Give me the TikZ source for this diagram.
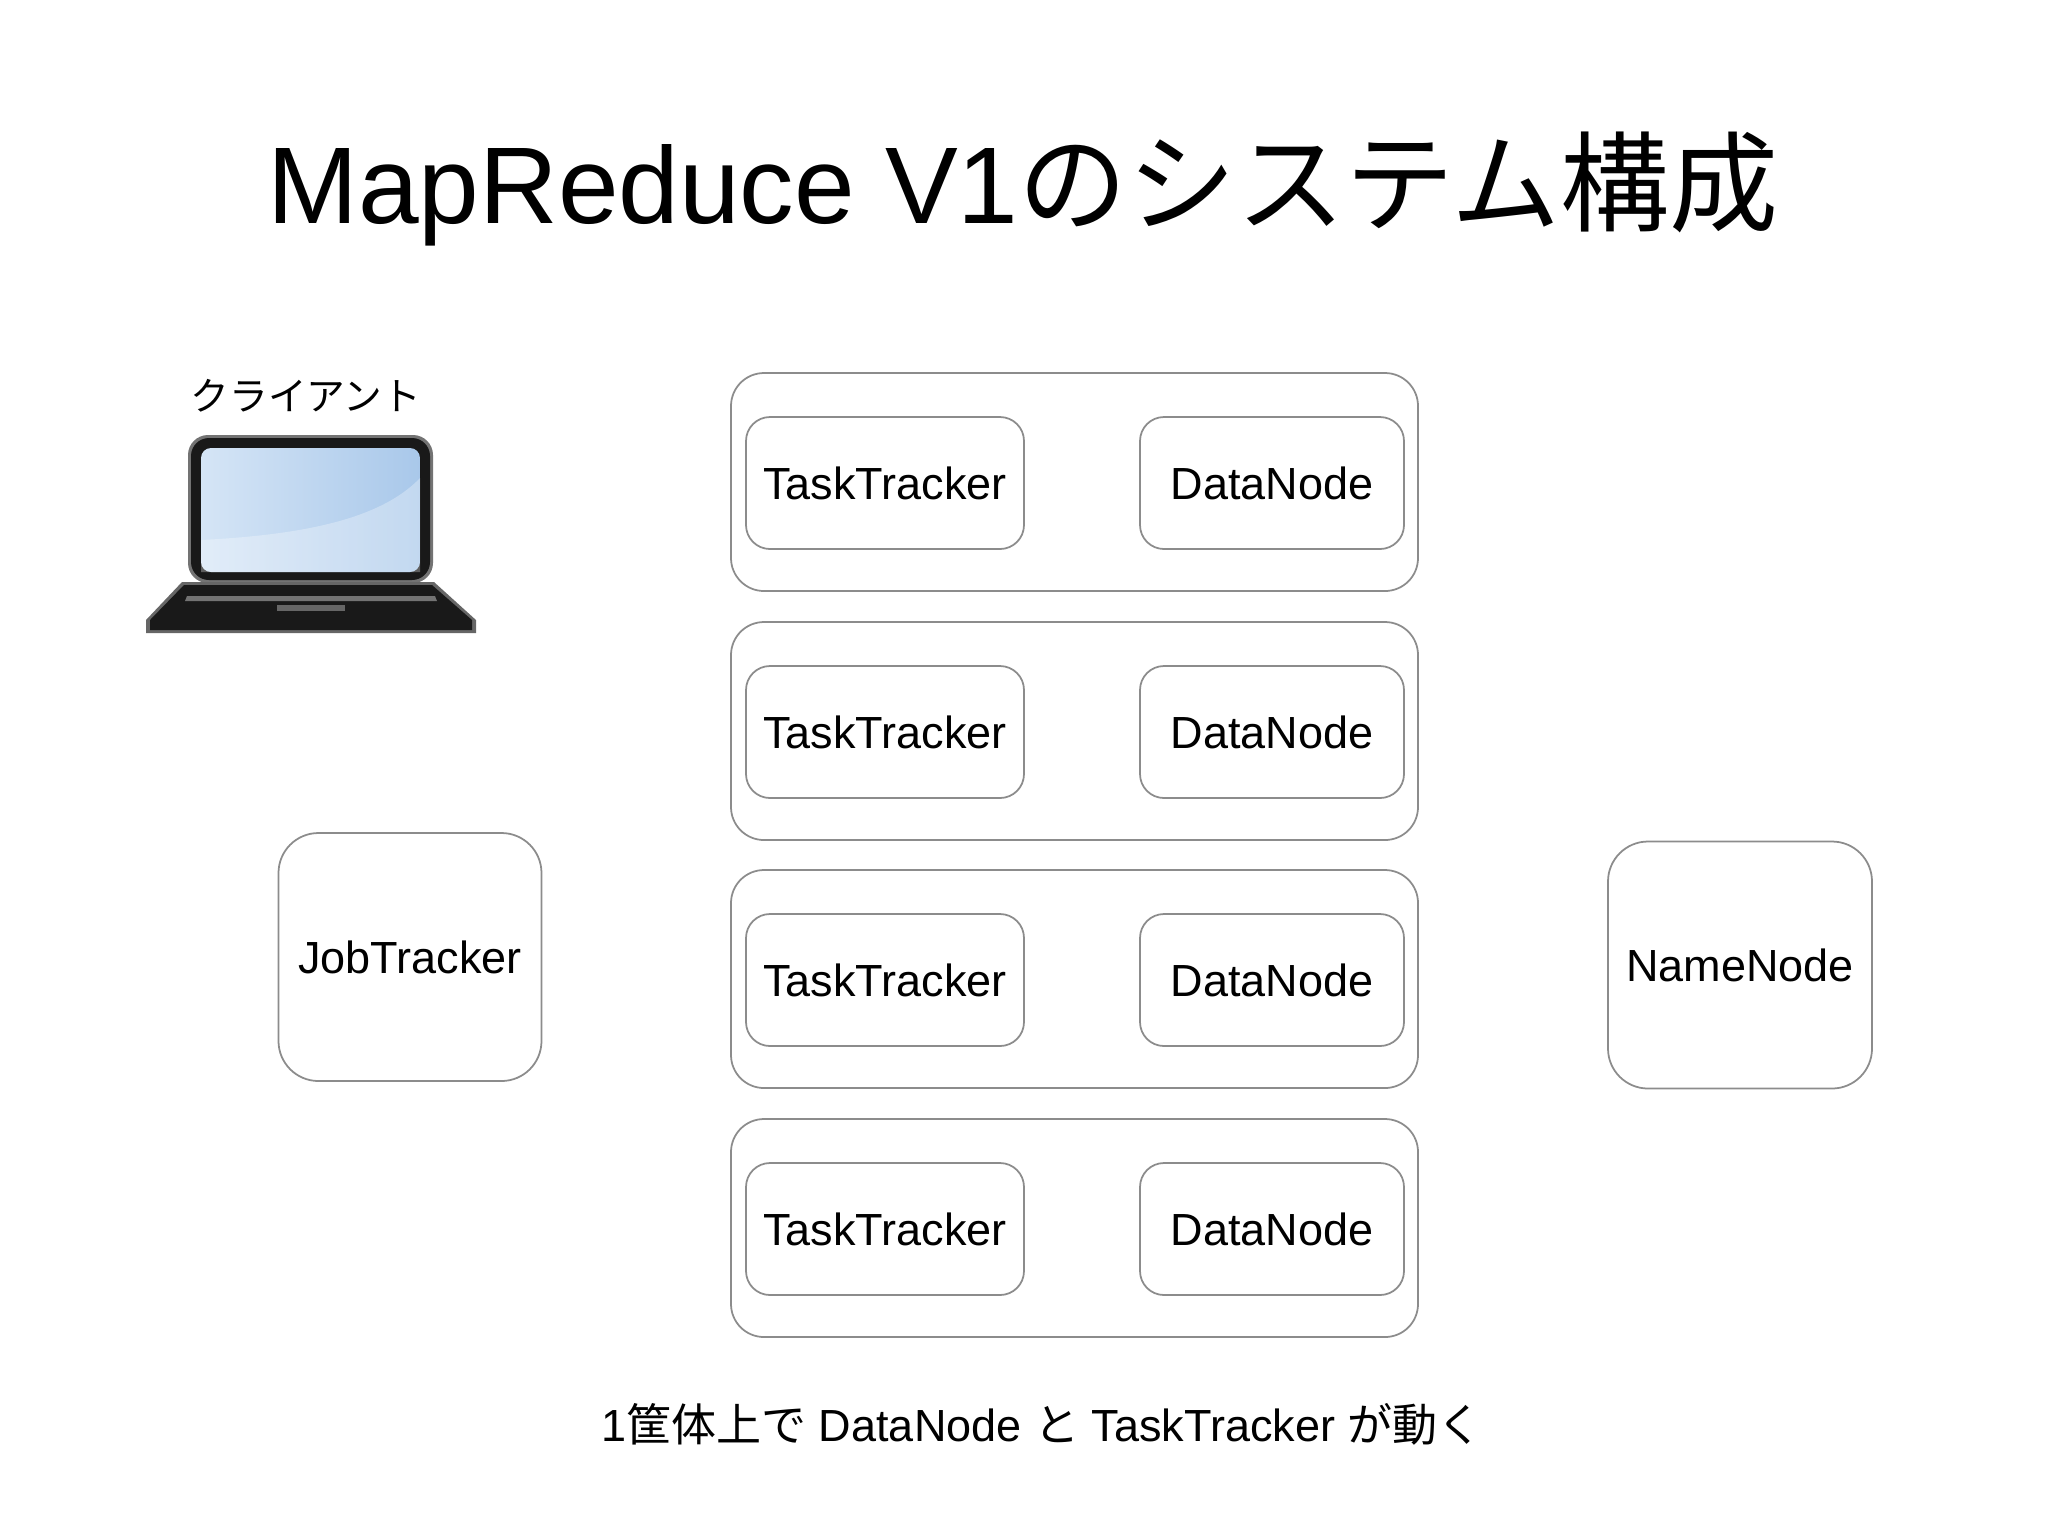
\documentclass[tikz,border=0pt]{standalone}
\usepackage{fontspec}
\setmainfont{Liberation Sans}
\newfontfamily\jp{Noto Sans CJK JP}
\definecolor{scrA}{HTML}{A9C8EA}
\definecolor{scrB}{HTML}{D5E5F6}
\begin{document}
\begin{tikzpicture}[x=0.01cm,y=-0.01cm,
  outerbox/.style={draw=black!45,line width=0.5pt,rounded corners=33*0.01cm},
  innerbox/.style={draw=black!45,line width=0.5pt,rounded corners=24*0.01cm,minimum width=278*0.01cm,minimum height=132*0.01cm,font=\fontsize{12.8}{15}\selectfont,inner sep=0pt},
  bigbox/.style={draw=black!45,line width=0.5pt,rounded corners=40*0.01cm,minimum width=263*0.01cm,minimum height=248*0.01cm,font=\fontsize{12.8}{15}\selectfont,inner sep=0pt}]
\useasboundingbox (0,0) rectangle (2048,1535);
\node (title) at (1023,189) {\fontsize{31}{36}\selectfont MapReduce V1{\jp のシステム構成}};
\node (client) at (306,396) {\jp\fontsize{11}{13}\selectfont クライアント};
% laptop
\fill[black!55,rounded corners=20*0.01cm] (188,435) rectangle (433,583);
\fill[black!90,rounded corners=18*0.01cm] (191,438) rectangle (430,580);
\shade[left color=scrB,right color=scrA,rounded corners=10*0.01cm] (201,448) rectangle (420,572);
\fill[white,opacity=0.3] (201,540) .. controls (300,535) and (380,520) .. (420,478) -- (420,572) -- (201,572) -- cycle;
\fill[black!60] (182,582) -- (434,582) -- (476,620) -- (476,633) -- (146,633) -- (146,620) -- cycle;
\fill[black!90] (184,585) -- (432,585) -- (472,620) -- (472,630) -- (150,630) -- (150,620) -- cycle;
\fill[black!55] (187,596) -- (435,596) -- (437,601) -- (185,601) -- cycle;
\fill[black!60] (277,605) rectangle (345,611);
% boxes
\foreach \i/\y in {1/373,2/622,3/870,4/1119}{
  \draw[outerbox] (731,\y) rectangle (1418,\y+218);
  \node[innerbox] (tt\i) at (885,\y+110) {TaskTracker};
  \node[innerbox,minimum width=264*0.01cm] (dn\i) at (1272,\y+110) {DataNode};
}
\node[bigbox] (jt) at (410,957) {JobTracker};
\node[bigbox,minimum width=264*0.01cm,minimum height=247*0.01cm] (nn) at (1740,965) {NameNode};
\node (cap) at (1042,1424) {\fontsize{12.8}{15}\selectfont 1{\jp 筐体上で} DataNode {\jp と} TaskTracker {\jp が動く}};
\end{tikzpicture}
\end{document}
